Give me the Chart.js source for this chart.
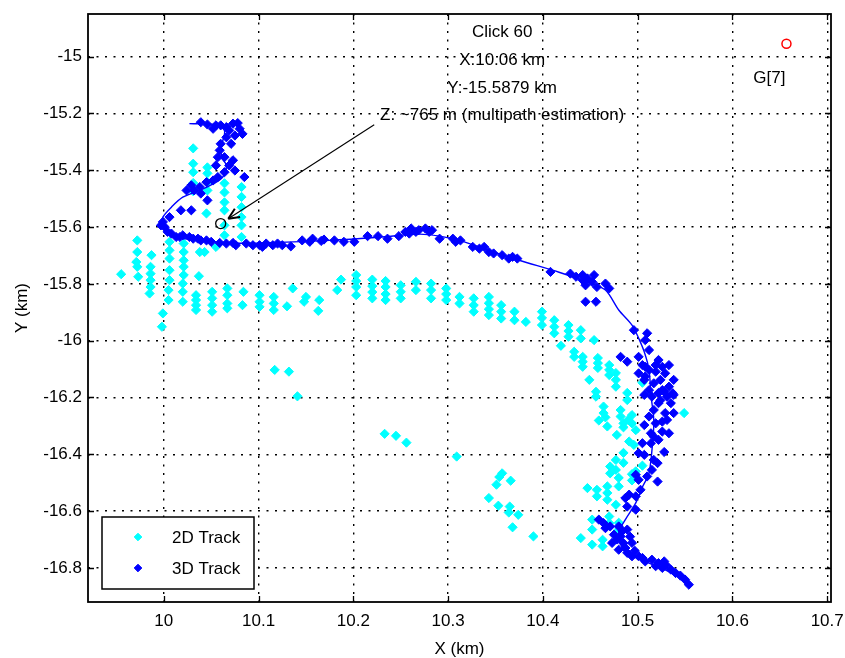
<!DOCTYPE html>
<html>
<head>
<meta charset="utf-8">
<title>Track</title>
<script src="https://cdn.jsdelivr.net/npm/chart.js@4.4.1/dist/chart.umd.min.js"></script>
<style>
  html, body { margin: 0; padding: 0; background: #fff; }
  #wrap { width: 845px; height: 658px; }
</style>
</head>
<body>
<div id="wrap"><canvas id="trackChart" width="845" height="658"></canvas></div>
<script>
// ===== DATA =====
const xTicks = [10, 10.1, 10.2, 10.3, 10.4, 10.5, 10.6, 10.7];
const xTickLabels = ['10', '10.1', '10.2', '10.3', '10.4', '10.5', '10.6', '10.7'];
const yTicks = [-15, -15.2, -15.4, -15.6, -15.8, -16, -16.2, -16.4, -16.6, -16.8];
const yTickLabels = ['-15', '-15.2', '-15.4', '-15.6', '-15.8', '-16', '-16.2', '-16.4', '-16.6', '-16.8'];

// 2D track fixes [x km, y km]
const track2D = [
  [10.031,-15.323],[10.031,-15.377],[10.031,-15.407],[10.031,-15.445],[10.031,-15.474],
  [10.046,-15.390],[10.046,-15.411],[10.046,-15.442],[10.046,-15.471],[10.045,-15.552],
  [10.064,-15.446],[10.064,-15.478],[10.064,-15.513],[10.064,-15.541],[10.064,-15.594],[10.064,-15.629],
  [10.082,-15.459],[10.082,-15.494],[10.082,-15.530],[10.082,-15.565],[10.082,-15.594],[10.082,-15.635],
  [10.055,-15.670],[10.043,-15.688],[9.955,-15.766],
  [9.972,-15.647],[9.972,-15.688],[9.971,-15.723],[9.972,-15.740],[9.973,-15.775],
  [9.987,-15.699],[9.986,-15.740],[9.986,-15.764],[9.986,-15.787],[9.986,-15.811],[9.985,-15.834],
  [9.999,-15.904],[9.998,-15.951],
  [10.006,-15.652],[10.006,-15.682],[10.006,-15.711],[10.006,-15.752],[10.006,-15.787],[10.005,-15.822],[10.005,-15.857],
  [10.021,-15.658],[10.021,-15.688],[10.021,-15.717],[10.021,-15.740],[10.021,-15.769],[10.020,-15.799],[10.020,-15.828],[10.020,-15.863],
  [10.038,-15.688],[10.037,-15.773],
  [10.034,-15.840],[10.034,-15.857],[10.034,-15.875],[10.034,-15.892],
  [10.051,-15.828],[10.051,-15.851],[10.051,-15.875],[10.051,-15.898],
  [10.067,-15.816],[10.067,-15.840],[10.067,-15.869],[10.067,-15.886],
  [10.084,-15.828],[10.083,-15.875],
  [10.101,-15.840],[10.101,-15.863],[10.101,-15.881],
  [10.116,-15.846],[10.116,-15.869],[10.116,-15.892],
  [10.130,-15.879],[10.136,-15.816],
  [10.117,-16.103],[10.132,-16.109],[10.141,-16.196],
  [10.150,-15.846],[10.148,-15.863],[10.164,-15.857],[10.163,-15.895],
  [10.187,-15.785],[10.183,-15.822],
  [10.203,-15.769],[10.203,-15.790],[10.203,-15.811],[10.203,-15.840],
  [10.220,-15.785],[10.220,-15.808],[10.220,-15.829],[10.220,-15.851],
  [10.234,-15.790],[10.234,-15.811],[10.234,-15.836],[10.234,-15.857],
  [10.250,-15.805],[10.250,-15.828],[10.250,-15.851],
  [10.266,-15.793],[10.266,-15.822],
  [10.282,-15.799],[10.282,-15.822],[10.282,-15.851],
  [10.298,-15.816],[10.298,-15.836],[10.298,-15.857],
  [10.312,-15.846],[10.312,-15.869],
  [10.327,-15.851],[10.327,-15.875],[10.327,-15.898],
  [10.343,-15.846],[10.343,-15.868],[10.343,-15.889],[10.343,-15.910],
  [10.356,-15.875],[10.356,-15.898],[10.356,-15.922],
  [10.370,-15.898],[10.370,-15.928],[10.382,-15.934],
  [10.399,-15.898],[10.399,-15.920],[10.399,-15.945],
  [10.412,-15.928],[10.412,-15.951],[10.412,-15.974],[10.419,-16.018],
  [10.427,-15.945],[10.427,-15.966],[10.427,-15.986],
  [10.433,-16.039],[10.433,-16.057],[10.440,-15.963],[10.440,-15.992],
  [10.442,-16.057],[10.442,-16.074],[10.442,-16.092],[10.454,-15.998],
  [10.458,-16.061],[10.458,-16.079],[10.458,-16.096],[10.449,-16.138],
  [10.470,-16.086],[10.470,-16.103],[10.470,-16.121],
  [10.456,-16.180],[10.456,-16.197],
  [10.477,-16.114],[10.477,-16.138],[10.477,-16.162],
  [10.464,-16.232],[10.464,-16.255],[10.489,-16.184],[10.489,-16.209],
  [10.482,-16.244],[10.482,-16.267],[10.505,-16.148],[10.549,-16.255],
  [10.459,-16.281],[10.466,-16.270],[10.490,-16.279],[10.494,-16.262],
  [10.485,-16.291],[10.485,-16.305],[10.494,-16.291],
  [10.468,-16.302],[10.478,-16.332],[10.491,-16.355],[10.498,-16.315],
  [10.485,-16.395],[10.485,-16.430],[10.477,-16.420],[10.477,-16.455],
  [10.471,-16.443],[10.471,-16.467],[10.496,-16.367],[10.505,-16.440],[10.498,-16.460],
  [10.494,-16.470],[10.494,-16.492],
  [10.447,-16.519],[10.457,-16.525],[10.457,-16.548],
  [10.468,-16.513],[10.468,-16.536],[10.468,-16.560],[10.480,-16.483],[10.480,-16.513],
  [10.452,-16.630],[10.452,-16.665],[10.440,-16.695],[10.452,-16.718],
  [10.463,-16.701],[10.463,-16.724],[10.470,-16.619],[10.470,-16.642],
  [10.480,-16.641],[10.480,-16.665],[10.477,-16.578],
  [10.233,-16.328],[10.245,-16.335],[10.256,-16.359],[10.309,-16.408],
  [10.357,-16.467],[10.354,-16.480],[10.351,-16.507],[10.366,-16.493],
  [10.343,-16.554],[10.353,-16.581],[10.365,-16.584],[10.364,-16.605],[10.374,-16.613],
  [10.368,-16.657],[10.390,-16.689]
];

// 3D track fixes [x km, y km]
const track3D = [
  [10.039,-15.231],[10.046,-15.239],[10.052,-15.254],[10.055,-15.242],[10.060,-15.242],[10.066,-15.248],
  [10.073,-15.236],[10.078,-15.234],[10.080,-15.254],[10.083,-15.272],
  [10.069,-15.260],[10.075,-15.278],[10.066,-15.284],[10.071,-15.307],[10.060,-15.307],[10.059,-15.330],
  [10.057,-15.354],[10.064,-15.354],[10.073,-15.365],[10.069,-15.383],[10.075,-15.401],[10.055,-15.383],
  [10.064,-15.407],[10.057,-15.424],[10.052,-15.436],[10.045,-15.442],[10.038,-15.459],[10.029,-15.453],
  [10.024,-15.471],[10.032,-15.471],[10.039,-15.482],[10.046,-15.506],[10.085,-15.424],
  [10.018,-15.541],[10.029,-15.541],[10.006,-15.565],[9.999,-15.582],[9.997,-15.594],[10.001,-15.600],
  [10.004,-15.617],[10.008,-15.623],
  [10.013,-15.635],[10.017,-15.635],[10.020,-15.629],[10.027,-15.635],[10.031,-15.641],[10.036,-15.641],
  [10.039,-15.647],[10.045,-15.647],[10.050,-15.652],[10.059,-15.656],[10.066,-15.658],[10.073,-15.656],
  [10.076,-15.664],[10.087,-15.658],[10.094,-15.664],[10.101,-15.664],[10.104,-15.670],[10.108,-15.658],
  [10.115,-15.664],[10.120,-15.658],[10.125,-15.664],[10.134,-15.668],
  [10.146,-15.647],[10.154,-15.652],[10.157,-15.641],[10.166,-15.649],[10.169,-15.644],[10.180,-15.647],
  [10.190,-15.652],[10.201,-15.652],[10.215,-15.632],[10.226,-15.632],[10.236,-15.641],[10.248,-15.632],
  [10.255,-15.617],[10.259,-15.623],[10.261,-15.605],[10.266,-15.617],[10.269,-15.611],[10.276,-15.605],
  [10.280,-15.617],[10.283,-15.611],[10.291,-15.641],[10.305,-15.641],[10.308,-15.652],[10.313,-15.647],
  [10.326,-15.670],[10.333,-15.676],[10.338,-15.670],[10.343,-15.688],[10.348,-15.693],[10.357,-15.699],
  [10.364,-15.711],[10.368,-15.705],[10.373,-15.711],
  [10.408,-15.758],[10.429,-15.764],[10.435,-15.775],[10.442,-15.769],[10.447,-15.781],[10.454,-15.769],
  [10.452,-15.793],[10.445,-15.805],[10.442,-15.787],[10.466,-15.799],[10.470,-15.816],[10.457,-15.811],
  [10.445,-15.863],[10.456,-15.863],
  [10.496,-15.963],[10.510,-15.974],[10.508,-15.998],
  [10.482,-16.057],[10.489,-16.074],[10.501,-16.057],[10.505,-16.086],[10.501,-16.115],[10.512,-16.103],
  [10.519,-16.086],[10.526,-16.092],[10.529,-16.115],[10.524,-16.138],[10.517,-16.150],[10.512,-16.174],
  [10.515,-16.197],[10.526,-16.174],[10.533,-16.162],[10.531,-16.197],[10.522,-16.220],[10.517,-16.244],
  [10.512,-16.267],[10.519,-16.291],[10.529,-16.255],[10.535,-16.220],[10.538,-16.255],
  [10.508,-16.092],[10.508,-16.126],[10.519,-16.109],[10.528,-16.180],[10.537,-16.185],[10.524,-16.210],
  [10.512,-16.033],[10.522,-16.068],[10.533,-16.086],[10.538,-16.138],[10.522,-16.184],[10.507,-16.138],
  [10.507,-16.191],[10.538,-16.191],[10.531,-16.279],[10.507,-16.297],[10.522,-16.349],[10.507,-16.402],
  [10.528,-16.392],
  [10.514,-16.326],[10.526,-16.320],[10.526,-16.285],[10.533,-16.326],[10.517,-16.338],[10.505,-16.361],
  [10.514,-16.361],[10.501,-16.396],[10.517,-16.420],[10.521,-16.431],[10.515,-16.455],[10.510,-16.478],
  [10.521,-16.496],[10.498,-16.472],[10.501,-16.490],[10.503,-16.525],[10.498,-16.548],[10.491,-16.542],
  [10.487,-16.554],[10.489,-16.584],[10.498,-16.595],
  [10.459,-16.630],[10.466,-16.660],[10.478,-16.700],[10.485,-16.713],[10.492,-16.690],[10.484,-16.670],
  [10.464,-16.642],[10.471,-16.654],[10.480,-16.654],[10.489,-16.665],[10.475,-16.683],[10.482,-16.689],
  [10.473,-16.712],[10.480,-16.736],[10.487,-16.730],[10.494,-16.712],[10.489,-16.747],[10.494,-16.759],
  [10.497,-16.740],[10.505,-16.765],[10.530,-16.790],[10.535,-16.806],[10.545,-16.827],
  [10.501,-16.759],[10.508,-16.777],[10.515,-16.771],[10.522,-16.783],[10.528,-16.777],[10.519,-16.794],
  [10.526,-16.800],[10.540,-16.818],[10.550,-16.841],[10.554,-16.859]
];

// smoothed trajectory
const trackFit = [
  [10.027,-15.236],[10.053,-15.239],[10.064,-15.260],[10.061,-15.313],[10.061,-15.354],[10.066,-15.383],
  [10.062,-15.425],[10.051,-15.450],[10.038,-15.471],[10.020,-15.495],[10.008,-15.530],[9.999,-15.565],
  [9.998,-15.590],[10.002,-15.615],[10.014,-15.636],[10.038,-15.647],[10.080,-15.657],[10.122,-15.654],
  [10.175,-15.647],[10.227,-15.636],[10.269,-15.625],[10.291,-15.632],[10.312,-15.647],[10.343,-15.682],
  [10.375,-15.717],[10.417,-15.759],[10.448,-15.795],[10.466,-15.822],[10.480,-15.892],[10.494,-15.945],
  [10.501,-15.991],[10.507,-16.040],[10.512,-16.103],[10.514,-16.191],[10.517,-16.279],[10.516,-16.349],
  [10.512,-16.466],[10.505,-16.515],[10.498,-16.571],[10.487,-16.630],[10.480,-16.676],[10.485,-16.736],
  [10.498,-16.764],[10.512,-16.783],[10.536,-16.818],[10.551,-16.850]
];

const clickPoint = [[10.06, -15.5879]];
const satPoint = [[10.657, -14.955]];
const satLabel = 'G[7]';
const clickLines = ['Click 60', 'X:10.06 km', 'Y:-15.5879 km', 'Z: ~765 m (multipath estimation)'];
const legendLabels = ['2D Track', '3D Track'];

// ===== LAYOUT CONSTANTS =====
const FONT = '"Liberation Sans", Arial, Helvetica, sans-serif';
const textAnchor = { x: 10.357, y: -14.915 };   // first line of click text
const arrowTail = { x: 10.222, y: -15.240 };
const satLabelPos = { x: 10.639, y: -15.075 };

const pts = arr => arr.map(p => ({ x: p[0], y: p[1] }));

// ===== AXES / ANNOTATION / LEGEND PLUGIN =====
const matlabAxes = {
  id: 'matlabAxes',
  afterDatasetsDraw(chart) {
    const { ctx, chartArea: a, scales: { x, y } } = chart;
    ctx.save();

    // inward tick marks on all four sides
    ctx.strokeStyle = '#000';
    ctx.lineWidth = 1.3;
    ctx.beginPath();
    xTicks.forEach(v => {
      const px = Math.round(x.getPixelForValue(v)) + 0.5;
      ctx.moveTo(px, a.bottom); ctx.lineTo(px, a.bottom - 6);
      ctx.moveTo(px, a.top); ctx.lineTo(px, a.top + 6);
    });
    yTicks.forEach(v => {
      const py = Math.round(y.getPixelForValue(v)) + 0.5;
      ctx.moveTo(a.left, py); ctx.lineTo(a.left + 6, py);
      ctx.moveTo(a.right, py); ctx.lineTo(a.right - 6, py);
    });
    ctx.stroke();

    // axes box
    ctx.lineWidth = 1.8;
    ctx.strokeRect(a.left, a.top, a.right - a.left, a.bottom - a.top);

    // click text
    ctx.fillStyle = '#000';
    ctx.font = '17px ' + FONT;
    ctx.textAlign = 'center';
    ctx.textBaseline = 'middle';
    const tx = x.getPixelForValue(textAnchor.x);
    const ty = y.getPixelForValue(textAnchor.y);
    clickLines.forEach((t, i) => ctx.fillText(t, tx, ty + i * 27.7));

    // arrow from text to click point
    const hx0 = x.getPixelForValue(clickPoint[0][0]);
    const hy0 = y.getPixelForValue(clickPoint[0][1]);
    const ax = x.getPixelForValue(arrowTail.x);
    const ay = y.getPixelForValue(arrowTail.y);
    const ang = Math.atan2(hy0 - ay, hx0 - ax);
    const hx = hx0 - Math.cos(ang) * 9;
    const hy = hy0 - Math.sin(ang) * 9;
    ctx.lineWidth = 1.1;
    ctx.beginPath();
    ctx.moveTo(ax, ay); ctx.lineTo(hx, hy);
    ctx.stroke();
    ctx.lineWidth = 2;
    ctx.beginPath();
    [0.42, -0.42].forEach(d => {
      ctx.moveTo(hx, hy);
      ctx.lineTo(hx - Math.cos(ang + d) * 12, hy - Math.sin(ang + d) * 12);
    });
    ctx.stroke();

    // satellite label
    ctx.fillText(satLabel, x.getPixelForValue(satLabelPos.x), y.getPixelForValue(satLabelPos.y));

    // legend box (bottom left, inside axes)
    const lx = a.left + 14, lw = 152, lh = 72;
    const ly = a.bottom - 13 - lh;
    ctx.fillStyle = '#fff';
    ctx.fillRect(lx, ly, lw, lh);
    ctx.strokeStyle = '#000';
    ctx.lineWidth = 1.5;
    ctx.strokeRect(lx, ly, lw, lh);
    const legendSets = [chart.data.datasets[4], chart.data.datasets[2]];
    legendSets.forEach((ds, i) => {
      const cy = ly + 20 + i * 31;
      ctx.fillStyle = ds.backgroundColor;
      ctx.strokeStyle = ds.borderColor;
      ctx.lineWidth = 1;
      Chart.helpers.drawPoint(ctx, { pointStyle: 'rectRot', radius: 3.8, rotation: 0, borderWidth: 1 }, lx + 36, cy);
      ctx.fillStyle = '#000';
      ctx.textAlign = 'left';
      ctx.fillText(legendLabels[i], lx + 70, cy + 1);
    });

    ctx.restore();
  }
};

// ===== CHART =====
const ctx = document.getElementById('trackChart').getContext('2d');

new Chart(ctx, {
  type: 'scatter',
  data: {
    datasets: [
      { label: 'Click', data: pts(clickPoint), pointStyle: 'circle', pointRadius: 5,
        borderColor: '#000', backgroundColor: 'rgba(0,0,0,0)', borderWidth: 1.3 },
      { label: satLabel, data: pts(satPoint), pointStyle: 'circle', pointRadius: 4.5,
        borderColor: '#ff0000', backgroundColor: 'rgba(0,0,0,0)', borderWidth: 1.5 },
      { label: legendLabels[1], data: pts(track3D), pointStyle: 'rectRot', pointRadius: 4.6,
        backgroundColor: '#0000ff', borderColor: '#0000ff', borderWidth: 1 },
      { label: 'Fit', data: pts(trackFit), showLine: true, pointRadius: 0, tension: 0.3,
        borderColor: '#0000ff', borderWidth: 1.4 },
      { label: legendLabels[0], data: pts(track2D), pointStyle: 'rectRot', pointRadius: 4.6,
        backgroundColor: '#00ffff', borderColor: '#00ffff', borderWidth: 1 }
    ]
  },
  options: {
    responsive: false,
    animation: false,
    devicePixelRatio: 1,
    events: [],
    layout: { padding: { left: 0, top: 14, right: 14, bottom: 0 } },
    plugins: { legend: { display: false }, tooltip: { enabled: false } },
    scales: {
      x: {
        type: 'linear', min: 9.92, max: 10.704,
        afterBuildTicks: s => { s.ticks = xTicks.map(v => ({ value: v })); },
        afterFit: s => { s.height = 56; s.paddingLeft = 0; s.paddingRight = 0; },
        ticks: { callback: (v, i) => xTickLabels[i], color: '#000', padding: 9,
                 maxRotation: 0, autoSkip: false, font: { family: FONT, size: 17 } },
        grid: { color: '#000', lineWidth: 1.4, drawTicks: false },
        border: { display: false, dash: [2, 6.5] },
        title: { display: true, text: 'X (km)', color: '#000', padding: { top: 0, bottom: 0 },
                 font: { family: FONT, size: 17, lineHeight: 1 } }
      },
      y: {
        type: 'linear', min: -16.92, max: -14.85,
        afterBuildTicks: s => { s.ticks = yTicks.map(v => ({ value: v })); },
        afterFit: s => { s.width = 88; s.paddingTop = 0; s.paddingBottom = 0; },
        ticks: { callback: (v, i) => yTickLabels[i], color: '#000', padding: 6,
                 autoSkip: false, font: { family: FONT, size: 17 } },
        grid: { color: '#000', lineWidth: 1.4, drawTicks: false },
        border: { display: false, dash: [2, 6.5] },
        title: { display: true, text: 'Y (km)', color: '#000', padding: { top: 14, bottom: 0 },
                 font: { family: FONT, size: 17, lineHeight: 1 } }
      }
    }
  },
  plugins: [matlabAxes]
});
</script>
</body>
</html>
